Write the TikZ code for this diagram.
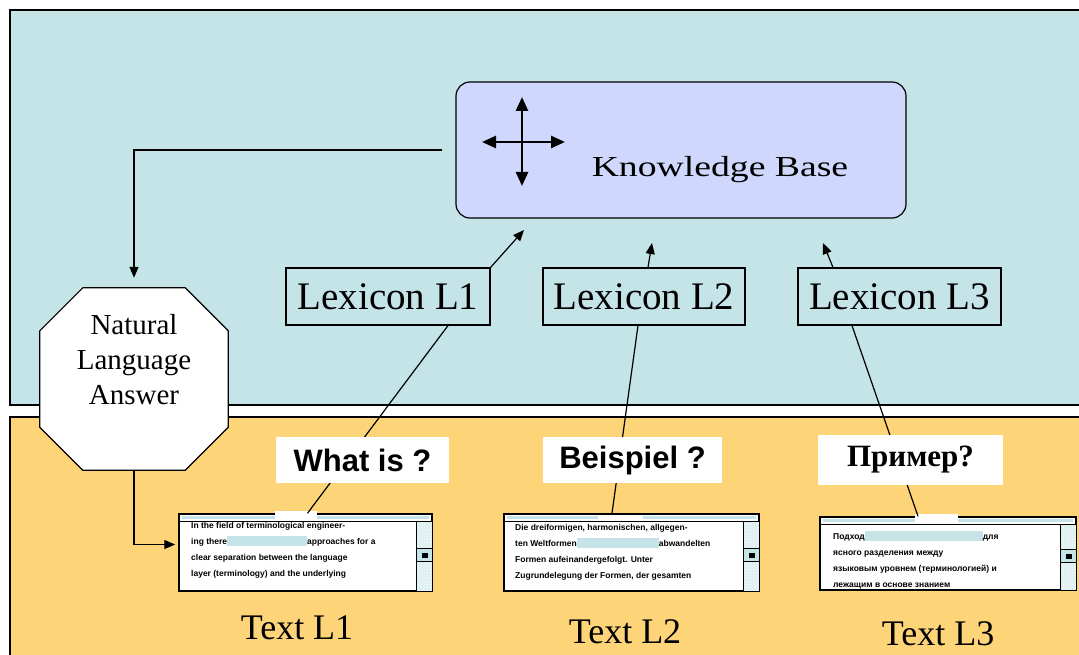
\documentclass[tikz,border=0pt]{standalone}
\usepackage{fontspec}
\setmainfont{Liberation Serif}
\setsansfont{Liberation Sans}
\newfontfamily\kbfont[FakeStretch=1.3]{Liberation Serif}
\usepackage{tikz}
\usetikzlibrary{calc,positioning,patterns,arrows.meta}
\definecolor{panelblue}{RGB}{197,228,232}
\definecolor{panelorange}{RGB}{254,212,120}
\definecolor{kblilac}{RGB}{207,216,252}
\definecolor{hlblue}{RGB}{197,228,232}
\newcommand{\hlbar}[1]{{\color{hlblue}\rule[-2pt]{#1}{10pt}}}
\tikzset{
    panel/.style={draw=black, line width=1.5pt},
    lexbox/.style={
        draw, line width=1.2pt, fill=panelblue,
        minimum height=57pt, inner sep=0pt,
        font=\fontsize{39}{40}\selectfont
    },
    % the little document windows
    winbox/.style={
        draw, line width=1.5pt, fill=white,
        minimum height=77pt, inner sep=0pt
    },
    wintext/.style={
        anchor=north west, align=left, inner sep=0pt,
        font=\sffamily\bfseries\fontsize{8.5}{16}\selectfont
    },
    qbox/.style={
        fill=white, inner sep=0pt, minimum height=46pt
    },
    textlabel/.style={font=\fontsize{36}{38}\selectfont, inner sep=0pt},
    linkarrow/.style={
        line width=1.2pt, black,
        -{Triangle[length=11pt, width=9pt]}
    },
    plainline/.style={line width=1.2pt, black}
}

\begin{document}
\begin{tikzpicture}[x=1pt, y=-1pt]
   \clip (0,0) rectangle (1079,655);
   \fill[white] (0,0) rectangle (1079,655);
   % the two layers
   \draw[panel, fill=panelblue] (10,10) rectangle (1090,405);
   \draw[panel, fill=panelorange] (10,417) rectangle (1090,670);

   % knowledge base
   \node[draw, line width=1.2pt, fill=kblilac, rounded corners=14pt,
         minimum width=450pt, minimum height=136pt] (kb) at (681,150) {};
   \draw[line width=2.5pt, {Triangle[length=14pt, width=12pt]}-{Triangle[length=14pt, width=12pt]}]
        (482,142) -- (565,142);
   \draw[line width=2.5pt, {Triangle[length=14pt, width=12pt]}-{Triangle[length=14pt, width=12pt]}]
        (522,97) -- (522,186);
   \node[font=\kbfont\fontsize{29}{30}\selectfont, inner sep=0pt] (kbname) at (720,170) {Knowledge Base};

   % lexicons
   \node[lexbox, minimum width=204pt] (lexA) at (388,296.5) {Lexicon L1};
   \node[lexbox, minimum width=202pt] (lexB) at (644,296.5) {Lexicon L2};
   \node[lexbox, minimum width=203pt] (lexC) at (899.5,296.5) {Lexicon L3};

   % answer octagon
   \node[minimum width=188pt, minimum height=182pt, inner sep=0pt] (nla) at (134,379) {};
   \draw[line width=1.2pt, fill=white]
        ($(nla.north west)+(43,0)$) -- ($(nla.north east)+(-43,0)$)
        -- ($(nla.north east)+(0,43)$) -- ($(nla.south east)+(0,-43)$)
        -- ($(nla.south east)+(-43,0)$) -- ($(nla.south west)+(43,0)$)
        -- ($(nla.south west)+(0,-43)$) -- ($(nla.north west)+(0,43)$) -- cycle;
   \node[align=center, inner sep=0pt, font=\fontsize{29}{35}\selectfont] (nlaname) at (134,360)
         {Natural\\Language\\Answer};

   % document windows
   \node[winbox, minimum width=253pt] (winA) at (305.5,552.5) {};
   \node[winbox, minimum width=255pt] (winB) at (631.5,552.5) {};
   \node[winbox, minimum width=256pt, minimum height=73pt] (winC) at (948,553.5) {};
   \foreach \w in {winA,winB,winC}{
      \fill[hlblue] ($(\w.north west)+(4,3)$) rectangle ($(\w.north east)+(-4,6)$);
      \draw[line width=1.2pt] ($(\w.north west)+(0,8)$) -- ($(\w.north east)+(0,8)$);
      \draw[line width=1.2pt, preaction={fill=hlblue!60}, pattern=crosshatch dots,
            pattern color=white] ($(\w.north east)+(-16,8)$) rectangle (\w.south east);
      \draw[line width=1.2pt, fill=hlblue] ($(\w.east)+(-16,-4)$) rectangle ($(\w.east)+(0,9)$);
      \fill ($(\w.east)+(-11,0)$) rectangle ($(\w.east)+(-5,5)$);
   }
   \fill[white] (275,511) rectangle (317,520);
   \fill[white] (598,516) rectangle (643,521);
   \fill[white] (915,514) rectangle (958,523);

   \node[wintext] (bodyA) at (191,522)
      {In the field of terminological engineer-\\
       ing there\hlbar{80pt}approaches for a\\
       clear separation between the language\\
       layer (terminology) and the underlying};
   \node[wintext] (bodyB) at (515,524)
      {Die dreiformigen, harmonischen, allgegen-\\
       ten Weltformen\hlbar{82pt}abwandelten\\
       Formen aufeinandergefolgt. Unter\\
       Zugrundelegung der Formen, der gesamten};
   \node[wintext] (bodyC) at (833,531)
      {Подход\hlbar{118pt}для\\
       ясного разделения между\\
       языковым уровнем (терминологией) и\\
       лежащим в основе знанием};

   % connectors
   \draw[linkarrow, shorten <=13pt, shorten >=10pt] (kb.west) -| (nla.north);
   \draw[linkarrow, shorten >=3pt] (nla.south) |- ($(winA.west)+(0,-8)$);
   \coordinate (kbA) at (524,230);
   \coordinate (kbB) at (652,243);
   \coordinate (kbC) at (823,243);
   \draw[linkarrow] (lexA.north east) -- (kbA);
   \draw[linkarrow] ([xshift=4pt]lexB.north) -- (kbB);
   \draw[linkarrow] ([xshift=-66.5pt]lexC.north) -- (kbC);
   \draw[plainline] ([xshift=60pt]lexA.south) -- ([xshift=2pt]winA.north);
   \draw[plainline] ([xshift=-6pt]lexB.south) -- ([xshift=-19.5pt]winB.north);
   \draw[plainline] ([xshift=-47.5pt]lexC.south) -- ([xshift=-30pt]winC.north);

   % questions
   \node[qbox, minimum width=173pt, font=\sffamily\bfseries\fontsize{31}{32}\selectfont] (qA) at (362.5,460) {What is ?};
   \node[qbox, minimum width=179pt, font=\sffamily\bfseries\fontsize{31}{32}\selectfont] (qB) at (632.5,460) {Beispiel ?};
   \node[qbox, minimum width=185pt, minimum height=50pt, font=\bfseries\fontsize{31}{32}\selectfont] (qC) at (910.5,460) {Пример?};

   % window captions
   \node[textlabel] (capA) at (297,628) {Text L1};
   \node[textlabel] (capB) at (625,632) {Text L2};
   \node[textlabel] (capC) at (938,634) {Text L3};
\end{tikzpicture}
\end{document}
